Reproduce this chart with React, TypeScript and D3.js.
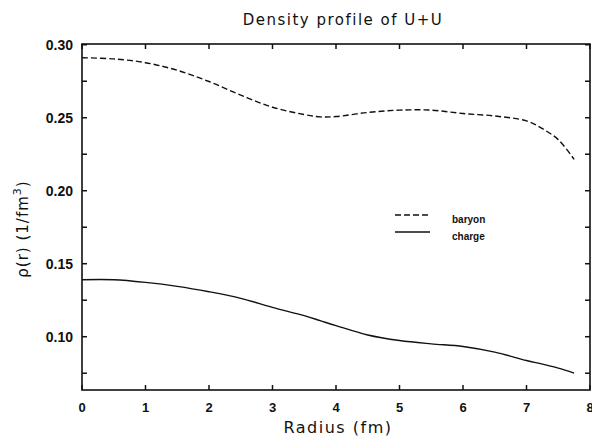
import React, { useRef, useEffect } from 'react';
import * as d3 from 'd3';

// radius (fm) and densities (1/fm^3)
const radius = [0, 0.5, 1, 1.5, 2, 2.5, 3, 3.5, 3.75, 4, 4.5, 5, 5.5, 6, 6.5, 7, 7.25, 7.5, 7.75];
const baryon = [0.2911, 0.2903, 0.2877, 0.2825, 0.2748, 0.2655, 0.2572, 0.2522, 0.2506, 0.2508, 0.2536, 0.2552, 0.2552, 0.2529, 0.2512, 0.2478, 0.2425, 0.2350, 0.2215];
const charge = [0.139, 0.139, 0.1372, 0.1345, 0.1308, 0.1263, 0.1201, 0.1144, 0.111, 0.1076, 0.1012, 0.0974, 0.0951, 0.0933, 0.0894, 0.0837, 0.0812, 0.0785, 0.0751];

const xTicks = [0, 1, 2, 3, 4, 5, 6, 7, 8];
const yTicks = [0.10, 0.15, 0.20, 0.25, 0.30];
const yMinor = [0.075, 0.125, 0.175, 0.225, 0.275];

const legendItems = [
  { label: 'baryon', dash: '6,3' },
  { label: 'charge', dash: null }
];

const W = 592;
const H = 437;

const DensityChart = () => {
  const svgRef = useRef(null);

  useEffect(() => {
    const svg = d3.select(svgRef.current);
    svg.selectAll('*').remove();

    const margin = { top: 44, right: 2, bottom: 47, left: 82 };
    const innerWidth = W - margin.left - margin.right;
    const innerHeight = H - margin.top - margin.bottom;

    const x = d3.scaleLinear().domain([0, 8]).range([0, innerWidth]);
    const y = d3.scaleLinear().domain([0.0635, 0.3005]).range([innerHeight, 0]);

    const g = svg.append('g')
      .attr('transform', `translate(${margin.left},${margin.top})`);

    // frame
    g.append('rect')
      .attr('width', innerWidth)
      .attr('height', innerHeight)
      .attr('fill', 'none')
      .attr('stroke', '#111')
      .attr('stroke-width', 1.6);

    const tick = 5;
    // x ticks, bottom and top, pointing inward
    xTicks.forEach(t => {
      g.append('line').attr('x1', x(t)).attr('x2', x(t))
        .attr('y1', innerHeight).attr('y2', innerHeight - tick)
        .attr('stroke', '#111').attr('stroke-width', 1.5);
      g.append('line').attr('x1', x(t)).attr('x2', x(t))
        .attr('y1', 0).attr('y2', tick)
        .attr('stroke', '#111').attr('stroke-width', 1.5);
      g.append('text')
        .attr('x', x(t))
        .attr('y', innerHeight + 22)
        .attr('text-anchor', 'middle')
        .attr('font-family', 'Liberation Sans, Arial, sans-serif')
        .attr('font-weight', 'bold')
        .attr('font-size', 13)
        .attr('fill', '#111')
        .text(t);
    });

    // y ticks, left and right
    yTicks.concat(yMinor).forEach(t => {
      g.append('line').attr('x1', 0).attr('x2', tick)
        .attr('y1', y(t)).attr('y2', y(t))
        .attr('stroke', '#111').attr('stroke-width', 1.5);
      g.append('line').attr('x1', innerWidth).attr('x2', innerWidth - tick)
        .attr('y1', y(t)).attr('y2', y(t))
        .attr('stroke', '#111').attr('stroke-width', 1.5);
    });

    yTicks.forEach(t => {
      g.append('text')
        .attr('x', -9)
        .attr('y', y(t) + 5)
        .attr('text-anchor', 'end')
        .attr('font-family', 'Liberation Sans, Arial, sans-serif')
        .attr('font-weight', 'bold')
        .attr('font-size', 14)
        .attr('fill', '#111')
        .text(d3.format('.2f')(t));
    });

    const line = d3.line()
      .x((d, i) => x(radius[i]))
      .y(d => y(d))
      .curve(d3.curveCatmullRom);

    g.append('path')
      .datum(baryon)
      .attr('fill', 'none')
      .attr('stroke', '#111')
      .attr('stroke-width', 1.4)
      .attr('stroke-dasharray', '6,3')
      .attr('d', line);

    g.append('path')
      .datum(charge)
      .attr('fill', 'none')
      .attr('stroke', '#111')
      .attr('stroke-width', 1.4)
      .attr('d', line);

    // legend
    const legend = g.selectAll('.legend-item')
      .data(legendItems)
      .enter()
      .append('g')
      .attr('class', 'legend-item')
      .attr('transform', (d, i) => `translate(${395 - margin.left}, ${215 - margin.top + i * 17})`);

    legend.append('line')
      .attr('x1', 0).attr('x2', 35)
      .attr('y1', 0).attr('y2', 0)
      .attr('stroke', '#111')
      .attr('stroke-width', 1.4)
      .attr('stroke-dasharray', d => d.dash);

    legend.append('text')
      .attr('x', 57)
      .attr('y', 8)
      .attr('font-family', 'Liberation Sans, Arial, sans-serif')
      .attr('font-weight', 'bold')
      .attr('font-size', 10)
      .attr('fill', '#111')
      .text(d => d.label);

    // title
    svg.append('text')
      .attr('x', 343)
      .attr('y', 25)
      .attr('text-anchor', 'middle')
      .attr('font-family', 'DejaVu Sans, sans-serif')
      .attr('font-size', 15)
      .attr('letter-spacing', 1.5)
      .attr('fill', '#111')
      .text('Density profile of U+U');

    // x label
    svg.append('text')
      .attr('x', 338)
      .attr('y', 433)
      .attr('text-anchor', 'middle')
      .attr('font-family', 'DejaVu Sans, sans-serif')
      .attr('font-size', 16)
      .attr('letter-spacing', 1.5)
      .attr('fill', '#111')
      .text('Radius (fm)');

    // y label
    const yl = svg.append('text')
      .attr('transform', 'translate(28,229) rotate(-90)')
      .attr('text-anchor', 'middle')
      .attr('font-family', 'DejaVu Sans, sans-serif')
      .attr('font-size', 15)
      .attr('letter-spacing', 1)
      .attr('fill', '#111');
    yl.append('tspan').text('ρ(r)  (1/fm');
    yl.append('tspan').attr('font-size', 11).attr('dy', -7).text('3');
    yl.append('tspan').attr('dy', 7).text(')');
  }, []);

  return <svg ref={svgRef} width={W} height={H} style={{ display: 'block', background: '#fff' }} />;
};

export default function App() {
  return (
    <div style={{ position: 'absolute', left: 0, top: 0 }}>
      <DensityChart />
    </div>
  );
}
